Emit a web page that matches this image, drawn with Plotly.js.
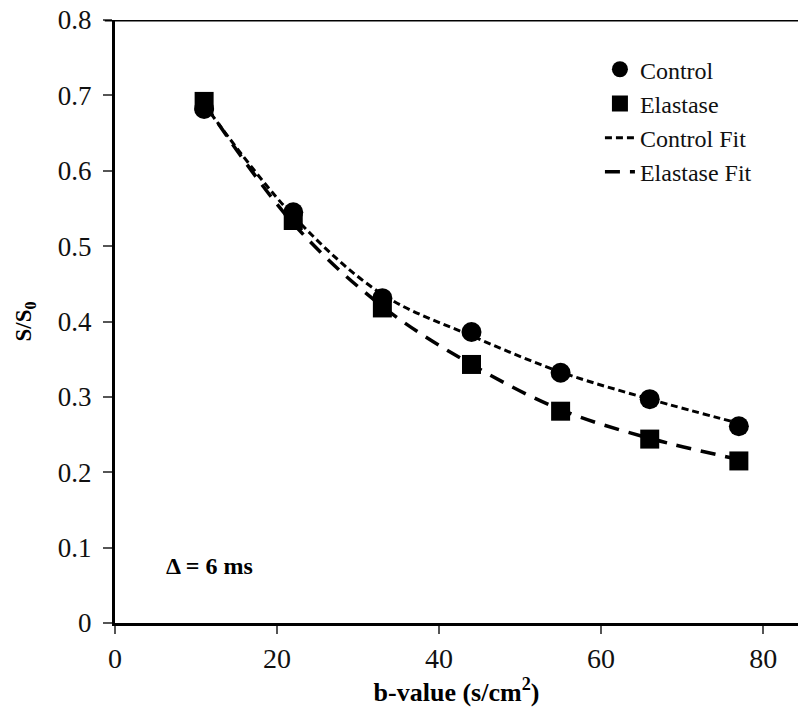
<!DOCTYPE html>
<html>
<head>
<meta charset="utf-8">
<script src="https://cdn.plot.ly/plotly-3.0.1.min.js"></script>
<style>html,body{margin:0;padding:0;background:#fff;}#chart{width:798px;height:710px;}</style>
</head>
<body>
<div id="chart"></div>
<script>
var bValues = [11, 22, 33, 44, 55, 66, 77];
var controlData = [0.682, 0.545, 0.431, 0.386, 0.332, 0.297, 0.261];
var elastaseData = [0.692, 0.534, 0.418, 0.343, 0.281, 0.244, 0.215];
var controlFit = [0.688, 0.540, 0.436, 0.381, 0.333, 0.297, 0.265];
var elastaseFit = [0.690, 0.530, 0.420, 0.343, 0.283, 0.245, 0.217];
var seriesNames = ['Control', 'Elastase', 'Control Fit', 'Elastase Fit'];
var xTicks = [0, 20, 40, 60, 80];
var yTicks = [0, 0.1, 0.2, 0.3, 0.4, 0.5, 0.6, 0.7, 0.8];
var yTickText = ['0', '0.1', '0.2', '0.3', '0.4', '0.5', '0.6', '0.7', '0.8'];

var serif = 'Liberation Serif, Times New Roman, serif';

var traces = [
  {x: bValues, y: controlData, name: seriesNames[0], mode: 'markers', type: 'scatter',
   marker: {symbol: 'circle', size: 20, color: '#000'}},
  {x: bValues, y: elastaseData, name: seriesNames[1], mode: 'markers', type: 'scatter',
   marker: {symbol: 'square', size: 19, color: '#000'}},
  {x: bValues, y: controlFit, name: seriesNames[2], mode: 'lines', type: 'scatter',
   line: {color: '#000', width: 3, dash: '7px,4px', shape: 'spline'}},
  {x: bValues, y: elastaseFit, name: seriesNames[3], mode: 'lines', type: 'scatter',
   line: {color: '#000', width: 3.5, dash: '15px,10px', shape: 'spline'}}
];

var layout = {
  width: 798, height: 710,
  margin: {l: 115, r: 0, t: 20, b: 87},
  paper_bgcolor: '#fff', plot_bgcolor: '#fff',
  font: {family: serif, color: '#000', size: 22},
  showlegend: true,
  legend: {x: 0.71, y: 0.955, xanchor: 'left', yanchor: 'top', bgcolor: 'rgba(0,0,0,0)',
           font: {family: serif, size: 24, color: '#111'}, tracegroupgap: 0},
  xaxis: {range: [0, 84.3], tickvals: xTicks, ticktext: xTicks.map(String),
          showgrid: false, zeroline: false, showline: true, linecolor: '#000', linewidth: 3,
          ticks: 'outside', ticklen: 8, tickwidth: 2, tickcolor: '#555',
          tickfont: {family: serif, size: 28, color: '#111'},
          title: {text: '<b>b-value (s/cm<sup>2</sup>)</b>', font: {family: serif, size: 26, color: '#000'}, standoff: 2}},
  yaxis: {range: [0, 0.8], tickvals: yTicks, ticktext: yTickText,
          showgrid: false, zeroline: false, showline: true, linecolor: '#000', linewidth: 3,
          ticks: 'outside', ticklen: 9, tickwidth: 2, tickcolor: '#555', ticklabelstandoff: 6,
          tickfont: {family: serif, size: 27, color: '#111'},
          title: {text: '<b>S/S<sub>0</sub></b>', font: {family: serif, size: 23, color: '#000'}, standoff: 20}},
  shapes: [{type: 'line', xref: 'paper', yref: 'y', x0: -0.015, x1: 1, y0: 0.8, y1: 0.8,
            line: {color: '#000', width: 3}}],
  annotations: [{xref: 'x', yref: 'y', x: 6, y: 0.075, xanchor: 'left', yanchor: 'middle', showarrow: false,
                 text: '<b>\u0394 = 6 ms</b>', font: {family: serif, size: 24, color: '#000'}}]
};

Plotly.newPlot('chart', traces, layout, {displayModeBar: false, staticPlot: true});
</script>
</body>
</html>
